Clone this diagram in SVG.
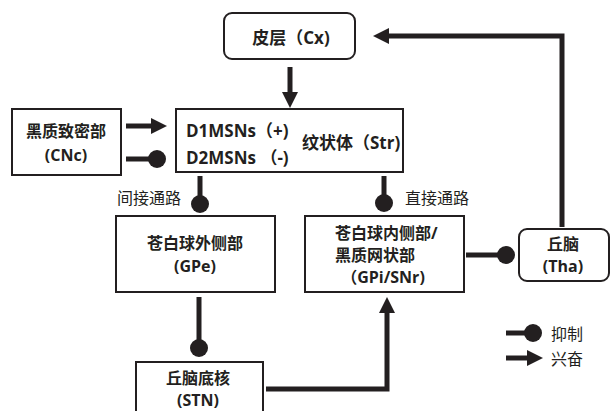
<svg xmlns="http://www.w3.org/2000/svg" width="611" height="411" viewBox="0 0 611 411">
<style>
.box{fill:#fff;stroke:#231f20;stroke-width:2}
.t{font-family:"Open Sans","Noto Sans CJK SC",sans-serif;font-weight:bold;font-size:16px;fill:#231f20;dominant-baseline:central}
.big{font-size:17px}
.c{text-anchor:middle}
.lab{font-family:"Noto Sans CJK SC","Noto Sans",sans-serif;font-size:16px;fill:#231f20;dominant-baseline:central}
.ex{fill:none;stroke:#231f20;stroke-width:5;marker-end:url(#arr)}
.in{fill:none;stroke:#231f20;stroke-width:5;marker-end:url(#dot)}
</style>
<defs>
<marker id="arr" markerUnits="userSpaceOnUse" markerWidth="16" markerHeight="16" refX="6" refY="8" orient="auto" overflow="visible">
<path d="M0,0 L16,8 L0,16 z" fill="#231f20"/>
</marker>
<marker id="dot" markerUnits="userSpaceOnUse" markerWidth="18" markerHeight="18" refX="9" refY="9" orient="auto" overflow="visible">
<circle cx="9" cy="9" r="9" fill="#231f20"/>
</marker>
</defs>
<rect width="611" height="411" fill="#fff"/>
<g id="connectors">
<path class="ex" d="M290,67 V98"/>
<path class="ex" d="M562,227 V36 H383"/>
<path class="ex" d="M126,126 H157"/>
<path class="in" d="M126,159 H157"/>
<path class="in" d="M200,176 V204"/>
<path class="in" d="M384,176 V203"/>
<path class="in" d="M466,255 H506"/>
<path class="in" d="M199,297 V348"/>
<path class="ex" d="M266,389 H387 V307"/>
</g>
<g id="cx"><rect class="box" x="224" y="13" width="131" height="46" rx="8"/><text class="t c big" x="291" y="37">皮层（Cx)</text></g>
<g id="cnc"><rect class="box" x="12" y="109" width="109" height="66"/><text class="t c" x="66" y="131">黑质致密部</text><text class="t c" x="66" y="155">(CNc)</text></g>
<g id="str"><rect class="box" x="176" y="109" width="227" height="63"/><text class="t big" x="186" y="130">D1MSNs（+)</text><text class="t big" x="186" y="157">D2MSNs （-)</text><text class="t big" x="302" y="142">纹状体（Str)</text></g>
<g id="gpe"><rect class="box" x="116" y="216" width="159" height="76"/><text class="t c" x="195" y="243">苍白球外侧部</text><text class="t c" x="195" y="266">(GPe)</text></g>
<g id="gpi"><rect class="box" x="305" y="216" width="159" height="76"/><text class="t" x="335" y="233">苍白球内侧部/</text><text class="t" x="335" y="255">黑质网状部</text><text class="t c" x="383" y="277">（GPi/SNr)</text></g>
<g id="tha"><rect class="box" x="519" y="229" width="90" height="52" rx="8"/><text class="t c" x="563" y="244">丘脑</text><text class="t c" x="563" y="266">(Tha)</text></g>
<g id="stn"><rect class="box" x="136" y="362" width="127" height="60"/><text class="t c" x="198" y="378">丘脑底核</text><text class="t c" x="198" y="400">(STN)</text></g>
<g id="labels"><text class="lab" x="117" y="197">间接通路</text><text class="lab" x="405" y="197">直接通路</text></g>
<g id="legend">
<path class="in" d="M506,333 H533"/><text class="lab" x="551" y="333">抑制</text>
<path class="ex" d="M506,358 H533"/><text class="lab" x="551" y="358">兴奋</text>
</g>
</svg>
